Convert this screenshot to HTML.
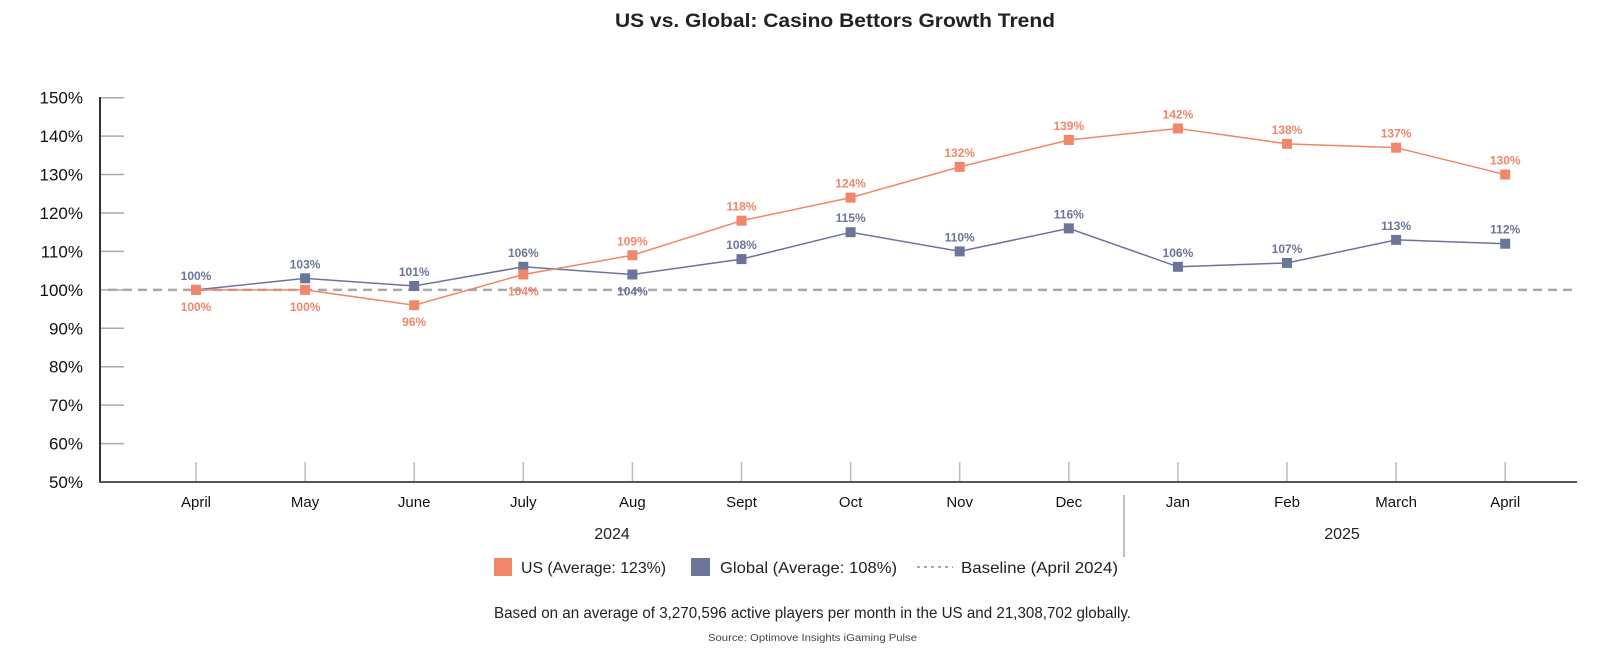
<!DOCTYPE html>
<html><head><meta charset="utf-8"><style>
body{margin:0;background:#fff;font-family:"Liberation Sans",sans-serif;}
svg text{font-family:"Liberation Sans",sans-serif;}
</style></head><body>
<svg id="c" width="1600" height="645" xmlns="http://www.w3.org/2000/svg">
<text x="835" y="27" text-anchor="middle" font-size="19" font-weight="bold" fill="#222" textLength="440" lengthAdjust="spacingAndGlyphs">US vs. Global: Casino Bettors Growth Trend</text>
<g id="grid"></g><g id="marks"></g>
<line x1="1124" y1="495" x2="1124" y2="557" stroke="#aaa" stroke-width="1.5"/>
<text x="612" y="539" text-anchor="middle" font-size="16" fill="#222">2024</text>
<text x="1342" y="539" text-anchor="middle" font-size="16" fill="#222">2025</text>
<g>
<rect x="494" y="558" width="18" height="18" fill="#f0866a"/>
<text x="521" y="573" font-size="16" fill="#222" textLength="145" lengthAdjust="spacingAndGlyphs">US (Average: 123%)</text>
<rect x="691" y="558" width="19" height="18" fill="#6b7599"/>
<text x="720" y="573" font-size="16" fill="#222" textLength="177" lengthAdjust="spacingAndGlyphs">Global (Average: 108%)</text>
<line x1="917" y1="567" x2="953" y2="567" stroke="#aaa" stroke-width="2" stroke-dasharray="3,4"/>
<text x="961" y="573" font-size="16" fill="#222" textLength="157" lengthAdjust="spacingAndGlyphs">Baseline (April 2024)</text>
</g>
<text x="494" y="618" font-size="16" fill="#222" textLength="637" lengthAdjust="spacingAndGlyphs">Based on an average of 3,270,596 active players per month in the US and 21,308,702 globally.</text>
<text x="708" y="641" font-size="10" fill="#444" textLength="209" lengthAdjust="spacingAndGlyphs">Source: Optimove Insights iGaming Pulse</text>
</svg>
<script>
const months=["April","May","June","July","Aug","Sept","Oct","Nov","Dec","Jan","Feb","March","April"];
const usValues=[100,100,96,104,109,118,124,132,139,142,138,137,130];
const globalValues=[100,103,101,106,104,108,115,110,116,106,107,113,112];
const yTicks=[50,60,70,80,90,100,110,120,130,140,150];
const baselineValue=100;
const NS="http://www.w3.org/2000/svg";
const x=i=>196+i*109.1;
const y=v=>482-(v-50)*3.843;
function el(t,a,p){const e=document.createElementNS(NS,t);for(const k in a)e.setAttribute(k,a[k]);p.appendChild(e);return e;}
const g=document.getElementById('grid'),m=document.getElementById('marks');
yTicks.forEach(v=>{
 const l=el('line',{x1:100,x2:124,y1:y(v),y2:y(v),stroke:'#aaa','stroke-width':1.5},g);
 
 
 const t=el('text',{x:83,y:y(v)+6,'text-anchor':'end','font-size':17,fill:'#111'},g);
 t.textContent=v+'%';
 
 
});
months.forEach((mn,i)=>{
 const l=el('line',{x1:x(i),x2:x(i),y1:462,y2:482,stroke:'#bbb','stroke-width':1.5},g);
 
 
 const t=el('text',{x:x(i),y:507,'text-anchor':'middle','font-size':15,fill:'#111'},g);
 t.textContent=mn;
 
 
});
let ax=el('line',{x1:100,x2:100,y1:97,y2:483,stroke:'#333','stroke-width':2},g);


ax=el('line',{x1:99,x2:1577,y1:482,y2:482,stroke:'#555','stroke-width':2},g);


const bl=el('line',{x1:108,x2:1577,y1:y(baselineValue),y2:y(baselineValue),stroke:'#aaa','stroke-width':2.5,'stroke-dasharray':'9,6'},m);


function series(vals,col,name,below){
 const pl=el('polyline',{points:vals.map((v,i)=>x(i)+','+y(v)).join(' '),fill:'none',stroke:col,'stroke-width':1.5},m);
 
 
 vals.forEach((v,i)=>{
  const c=(i===0&&name==='global')?'#aaa':col;
  const r=el('rect',{x:x(i)-5,y:y(v)-5,width:10,height:10,fill:c},m);
  
  
  const b=below(i);
  const t=el('text',{x:x(i),y:b?y(v)+21:y(v)-10,'text-anchor':'middle','font-size':12,'font-weight':'bold',fill:col},m);
  t.textContent=v+'%';
  
  
 });
}
series(globalValues,'#6b7599','global',i=>usValues[i]>globalValues[i]&&usValues[i]-globalValues[i]<8);
series(usValues,'#f0866a','us',i=>usValues[i]<=globalValues[i]);
</script>
</body></html>
